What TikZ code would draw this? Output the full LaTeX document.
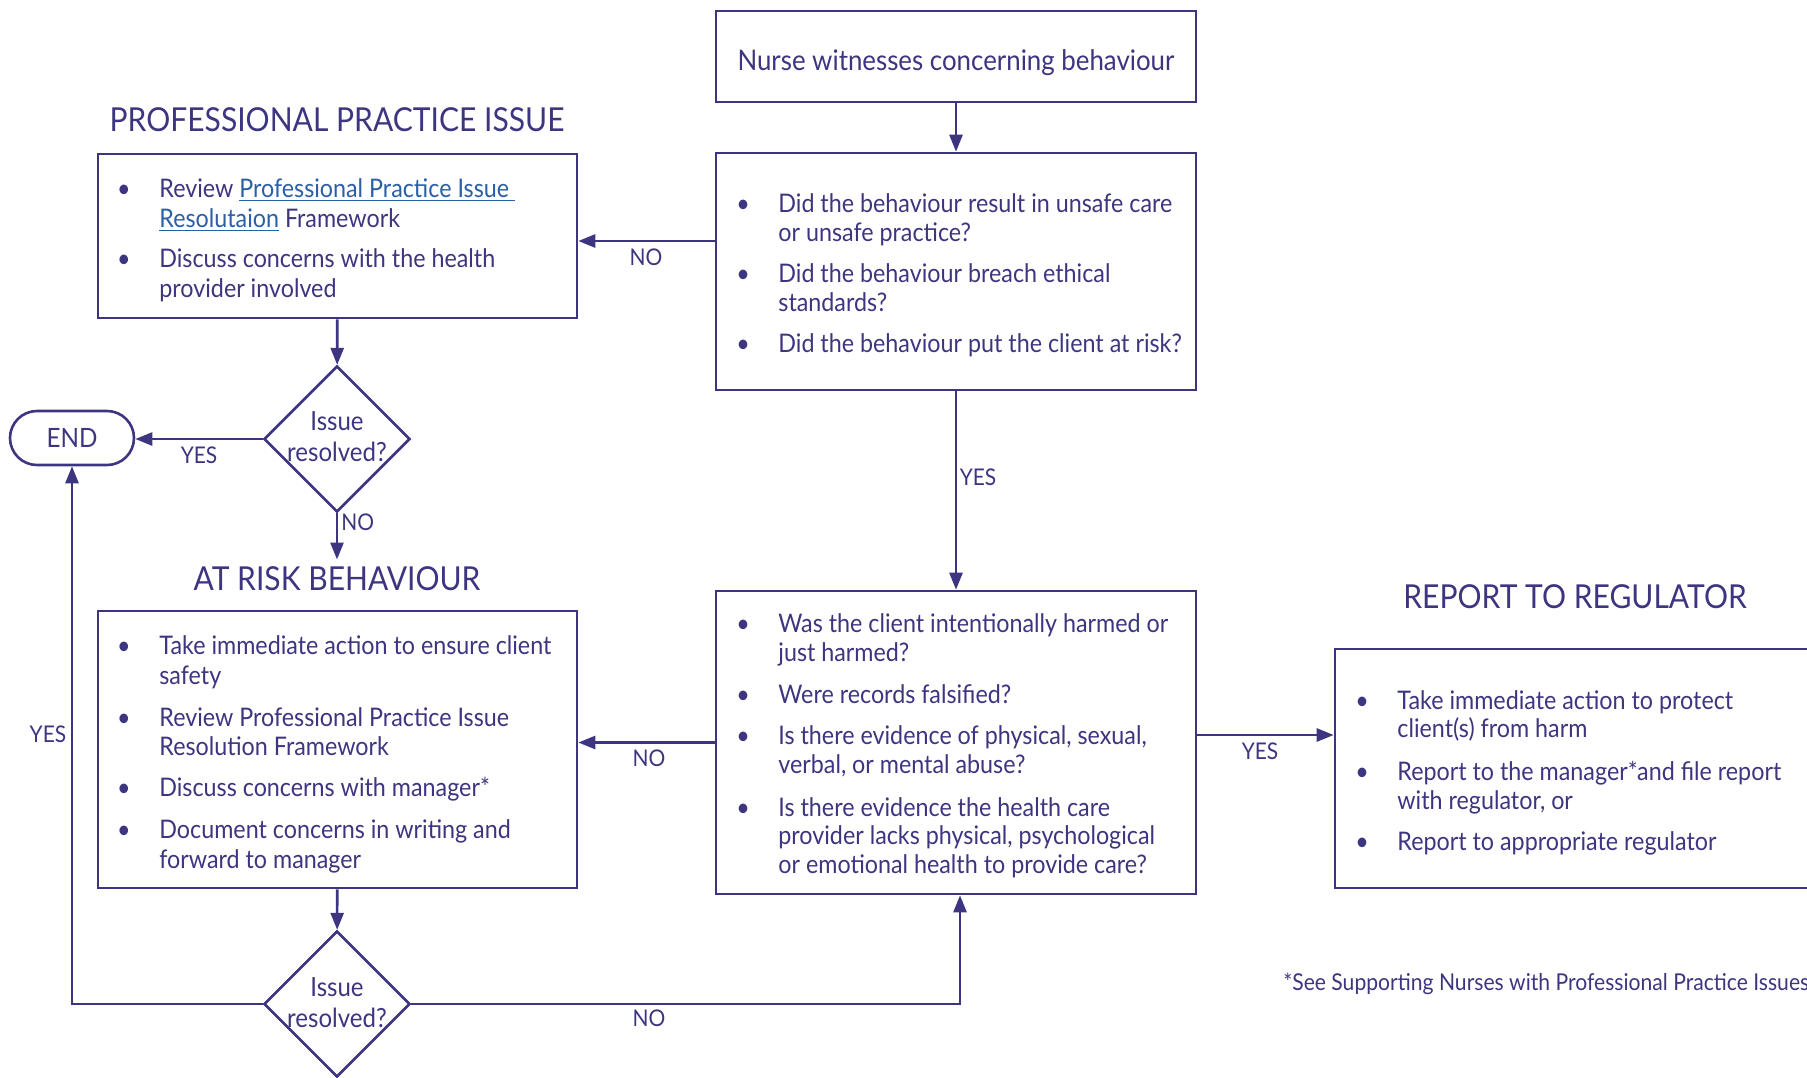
\documentclass[tikz,border=0pt]{standalone}
\usepackage{fontspec}
\setmainfont[FakeStretch=0.91]{Lato}
\usetikzlibrary{arrows.meta,shapes.geometric}
\definecolor{ink}{HTML}{3D3580}
\definecolor{linkblue}{HTML}{2A5FA5}
\tikzset{
  x=0.5pt, y=-0.5pt,
  boxed/.style={draw=ink, line width=1.3pt, inner sep=0pt, rectangle},
  arr/.style={draw=ink, line width=1.3pt, -{Triangle[length=8.5pt,width=6.5pt]}},
  ln/.style={draw=ink, line width=1.3pt},
  txt/.style={anchor=base west, inner sep=0pt, text=ink, font=\fontsize{12.8}{15}\selectfont},
  ctxt/.style={anchor=base, inner sep=0pt, text=ink, font=\fontsize{13.2}{15}\selectfont},
  bul/.style={anchor=base, inner sep=0pt, text=ink, font=\fontsize{12.8}{15}\selectfont},
  lbl/.style={inner sep=0pt, text=ink, font=\fontsize{11.5}{13}\selectfont},
  hdr/.style={inner sep=0pt, text=ink, font=\fontsize{16.5}{19}\selectfont},
  dia/.style={draw=ink, line width=1.3pt, diamond, aspect=1, minimum width=73pt, minimum height=73pt, inner sep=0pt},
}
\begin{document}
\begin{tikzpicture}
\useasboundingbox (0,0) rectangle (1807,1077);
% boxes
\node[boxed, minimum width=240pt, minimum height=45.5pt] (nurse) at (956,56.5) {};
\node[boxed, minimum width=240pt, minimum height=118.5pt] (q1) at (956,271.5) {};
\node[boxed, minimum width=239.5pt, minimum height=82pt] (ppi) at (337.5,236) {};
\node[boxed, minimum width=239.5pt, minimum height=138.5pt] (ar) at (337.5,749.5) {};
\node[boxed, minimum width=240pt, minimum height=151.5pt] (q2) at (956,742.5) {};
\node[boxed, minimum width=247.5pt, minimum height=119.5pt] (rr) at (1582.5,768.5) {};
\node[boxed, minimum width=62pt, minimum height=27pt, rounded corners=13.5pt] (end) at (72,438) {};
\node[dia] (d1) at (337,439) {};
\node[dia] (d2) at (337,1004) {};
% headers
\node[hdr] (ppihdr) at (337,120) {PROFESSIONAL PRACTICE ISSUE};
\node[hdr] (arhdr) at (337,579) {AT RISK BEHAVIOUR};
\node[hdr] (rrhdr) at (1575,597) {REPORT TO REGULATOR};
% end text
\node[lbl, font=\fontsize{13.3}{15}\selectfont] (endtxt) at (72,438) {END};
% nurse text
\node[ctxt, font=\fontsize{14.2}{16}\selectfont] (nursetxt) at (956,70) {Nurse witnesses concerning behaviour};
% Q1
\node[bul] (q1b1) at (743,212) {\textbullet};
\node[txt] (q1l1) at (778,212) {Did the behaviour result in unsafe care};
\node[txt] (q1l2) at (778,241) {or unsafe practice?};
\node[bul] (q1b2) at (743,282) {\textbullet};
\node[txt] (q1l3) at (778,282) {Did the behaviour breach ethical};
\node[txt] (q1l4) at (778,311) {standards?};
\node[bul] (q1b3) at (743,352) {\textbullet};
\node[txt] (q1l5) at (778,352) {Did the behaviour put the client at risk?};
% PPI
\node[bul] (pb1) at (124,197) {\textbullet};
\node[txt] (pl1) at (159,197) {Review {\color{linkblue}\underline{Professional Practice Issue\ }}};
\node[txt] (pl2) at (159,227) {{\color{linkblue}\underline{Resolutaion}} Framework};
\node[bul] (pb2) at (124,267) {\textbullet};
\node[txt] (pl3) at (159,267) {Discuss concerns with the health};
\node[txt] (pl4) at (159,297) {provider involved};
% diamond texts
\node[ctxt] (d1a) at (337,430) {Issue};
\node[ctxt] (d1b) at (337,461) {resolved?};
\node[ctxt] (d2a) at (337,996) {Issue};
\node[ctxt] (d2b) at (337,1027) {resolved?};
% AR
\node[bul] (ab1) at (124,654) {\textbullet};
\node[txt] (al1) at (159,654) {Take immediate action to ensure client};
\node[txt] (al2) at (159,684) {safety};
\node[bul] (ab2) at (124,726) {\textbullet};
\node[txt] (al3) at (159,726) {Review Professional Practice Issue};
\node[txt] (al4) at (159,755) {Resolution Framework};
\node[bul] (ab3) at (124,796) {\textbullet};
\node[txt] (al5) at (159,796) {Discuss concerns with manager*};
\node[bul] (ab4) at (124,838) {\textbullet};
\node[txt] (al6) at (159,838) {Document concerns in writing and};
\node[txt] (al7) at (159,868) {forward to manager};
% Q2
\node[bul] (qb1) at (743,632) {\textbullet};
\node[txt] (ql1) at (778,632) {Was the client intentionally harmed or};
\node[txt] (ql2) at (778,661) {just harmed?};
\node[bul] (qb2) at (743,703) {\textbullet};
\node[txt] (ql3) at (778,703) {Were records falsified?};
\node[bul] (qb3) at (743,744) {\textbullet};
\node[txt] (ql4) at (778,744) {Is there evidence of physical, sexual,};
\node[txt] (ql5) at (778,773) {verbal, or mental abuse?};
\node[bul] (qb4) at (743,816) {\textbullet};
\node[txt] (ql6) at (778,816) {Is there evidence the health care};
\node[txt] (ql7) at (778,844) {provider lacks physical, psychological};
\node[txt] (ql8) at (778,873) {or emotional health to provide care?};
% RR
\node[bul] (rb1) at (1362,709) {\textbullet};
\node[txt] (rl1) at (1397,709) {Take immediate action to protect};
\node[txt] (rl2) at (1397,737) {client(s) from harm};
\node[bul] (rb2) at (1362,780) {\textbullet};
\node[txt] (rl3) at (1397,780) {Report to the manager*and file report};
\node[txt] (rl4) at (1397,809) {with regulator, or};
\node[bul] (rb3) at (1362,850) {\textbullet};
\node[txt] (rl5) at (1397,850) {Report to appropriate regulator};
% footnote
\node[txt, font=\fontsize{11.6}{14}\selectfont] (foot) at (1283,990) {*See Supporting Nurses with Professional Practice Issues};
% connectors
\draw[arr] (nurse) -- (q1);
\draw[arr] ([yshift=15.25pt]q1.west) -- ([yshift=15.25pt]q1.west -| ppi.east);
\draw[arr] (ppi) -- (d1);
\draw[arr] (d1.west) -- (end.east |- d1.west);
\draw[arr] (d1.south) -- ([yshift=3.5pt]arhdr.north);
\draw[arr] (q2.west) -- (q2.west -| ar.east);
\draw[arr] (ar) -- (d2);
\draw[arr] (q1) -- (q2);
\draw[arr] ([yshift=3.75pt]q2.east) -- ([yshift=3.75pt]q2.east -| rr.west);
\draw[arr] (d2.west) -| (end.south);
\draw[arr] (d2.east) -| ([xshift=2pt]q2.south);
% labels
\node[lbl] (no1) at (646,257) {NO};
\node[lbl] (yes1) at (199,455) {YES};
\node[lbl, anchor=west] (no2) at (341,522) {NO};
\node[lbl] (yes2) at (48,734) {YES};
\node[lbl] (no3) at (649,758) {NO};
\node[lbl] (no4) at (649,1018) {NO};
\node[lbl] (yes3) at (978,477) {YES};
\node[lbl] (yes4) at (1260,751) {YES};
\end{tikzpicture}
\end{document}
